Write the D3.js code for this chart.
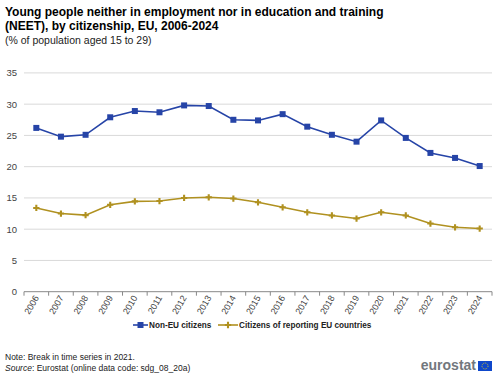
<!DOCTYPE html>
<html>
<head>
<meta charset="utf-8">
<script src="https://cdn.jsdelivr.net/npm/d3@7"></script>
<style>
  body { margin: 0; background: #fff; }
  svg { font-family: Arial, "Liberation Sans", sans-serif; display: block; }
</style>
</head>
<body>
<div id="chart"></div>
<script>
var years = ['2006','2007','2008','2009','2010','2011','2012','2013','2014','2015',
  '2016','2017','2018','2019','2020','2021','2022','2023','2024'];
var nonEU = [26.2,24.8,25.1,27.9,28.9,28.7,29.8,29.7,27.5,27.4,28.4,26.4,25.1,24.0,27.4,24.6,22.2,21.4,20.1];
var euCitizens = [13.4,12.5,12.25,13.9,14.45,14.5,15.0,15.1,14.9,14.3,13.5,12.7,12.2,11.7,12.7,12.2,10.9,10.3,10.1];
var yTicks = [0,5,10,15,20,25,30,35];
var seriesNames = ['Non-EU citizens','Citizens of reporting EU countries'];
var seriesColors = ['#2644a7','#b09120'];

var w = 500, h = 376;
var svg = d3.select('#chart').append('svg').attr('width', w).attr('height', h);

// titles
svg.append('text').attr('x', 5).attr('y', 16).attr('font-size', 12).attr('font-weight', 'bold')
  .text('Young people neither in employment nor in education and training');
svg.append('text').attr('x', 5).attr('y', 30).attr('font-size', 12).attr('font-weight', 'bold')
  .text('(NEET), by citizenship, EU, 2006-2024');
svg.append('text').attr('x', 5).attr('y', 44).attr('font-size', 10.5).attr('fill', '#222')
  .text('(% of population aged 15 to 29)');

var x = d3.scaleBand().domain(years).range([24, 492]);
var y = d3.scaleLinear().domain([0, 35]).range([291.7, 72.9]);

// grid
svg.append('g').selectAll('line').data(yTicks.filter(function(d){return d>0;})).enter().append('line')
  .attr('x1', 24).attr('x2', 492).attr('y1', function(d){return y(d);}).attr('y2', function(d){return y(d);})
  .attr('stroke', '#d9d9d9').attr('stroke-width', 1);

// y labels
svg.append('g').selectAll('text').data(yTicks).enter().append('text')
  .attr('x', 17).attr('y', function(d){return y(d) + 3.5;}).attr('text-anchor', 'end')
  .attr('font-size', 9.5).attr('fill', '#444').text(function(d){return d;});

// x axis
svg.append('line').attr('x1', 24).attr('x2', 492).attr('y1', y(0)).attr('y2', y(0))
  .attr('stroke', '#888').attr('stroke-width', 1);
var bounds = years.map(function(d){return x(d);}).concat([492]);
svg.append('g').selectAll('line').data(bounds).enter().append('line')
  .attr('x1', function(d){return d;}).attr('x2', function(d){return d;})
  .attr('y1', y(0)).attr('y2', y(0) + 4).attr('stroke', '#888');

svg.append('g').selectAll('text').data(years).enter().append('text')
  .attr('transform', function(d){ return 'translate(' + (x(d) + x.bandwidth()/2 + 3) + ',' + (y(0) + 6) + ') rotate(-60)'; })
  .attr('text-anchor', 'end').attr('font-size', 9).attr('fill', '#444').text(function(d){return d;});

// lines
var allSeries = [nonEU, euCitizens];
var line = d3.line().x(function(d, i){ return x(years[i]) + x.bandwidth()/2; }).y(function(d){ return y(d); });
allSeries.forEach(function(s, k) {
  svg.append('path').datum(s).attr('d', line).attr('fill', 'none')
    .attr('stroke', seriesColors[k]).attr('stroke-width', 1.6);
  var g = svg.append('g');
  if (k === 0) {
    g.selectAll('rect').data(s).enter().append('rect')
      .attr('x', function(d, i){ return x(years[i]) + x.bandwidth()/2 - 3; })
      .attr('y', function(d){ return y(d) - 3; })
      .attr('width', 6).attr('height', 6).attr('fill', seriesColors[k]);
  } else {
    g.selectAll('path').data(s).enter().append('path')
      .attr('d', d3.symbol().type(d3.symbolCross).size(22))
      .attr('transform', function(d, i){ return 'translate(' + (x(years[i]) + x.bandwidth()/2) + ',' + y(d) + ')'; })
      .attr('fill', seriesColors[k]);
  }
});

// legend
var legX = [133, 218];
var legLen = [15, 20];
seriesNames.forEach(function(n, k) {
  var lg = svg.append('g').attr('transform', 'translate(' + legX[k] + ',325)');
  lg.append('line').attr('x1', 0).attr('x2', legLen[k]).attr('y1', 0).attr('y2', 0)
    .attr('stroke', seriesColors[k]).attr('stroke-width', 1.6);
  if (k === 0) {
    lg.append('rect').attr('x', legLen[k]/2 - 3).attr('y', -3).attr('width', 6).attr('height', 6).attr('fill', seriesColors[k]);
  } else {
    lg.append('path').attr('d', d3.symbol().type(d3.symbolCross).size(22))
      .attr('transform', 'translate(' + legLen[k]/2 + ',0)').attr('fill', seriesColors[k]);
  }
  lg.append('text').attr('x', legLen[k] + 1).attr('y', 3).attr('font-size', 8.2).attr('font-weight', 'bold')
    .attr('fill', '#222').text(n);
});

// notes
svg.append('text').attr('x', 5).attr('y', 360).attr('font-size', 8.5).attr('fill', '#222')
  .text('Note: Break in time series in 2021.');
var src = svg.append('text').attr('x', 5).attr('y', 371).attr('font-size', 8.5).attr('fill', '#222');
src.append('tspan').attr('font-style', 'italic').text('Source');
src.append('tspan').text(': Eurostat (online data code: sdg_08_20a)');

// logo
svg.append('text').attr('x', 476).attr('y', 370).attr('text-anchor', 'end').attr('font-size', 14)
  .attr('font-weight', 'bold').attr('fill', '#72777d').text('eurostat');
svg.append('rect').attr('x', 478).attr('y', 361).attr('width', 14).attr('height', 10).attr('fill', '#0e47cb');
svg.append('circle').attr('cx', 485).attr('cy', 366).attr('r', 3).attr('fill', 'none')
  .attr('stroke', '#ffdd00').attr('stroke-width', 0.8).attr('stroke-dasharray', '1,1');
</script>
</body>
</html>
